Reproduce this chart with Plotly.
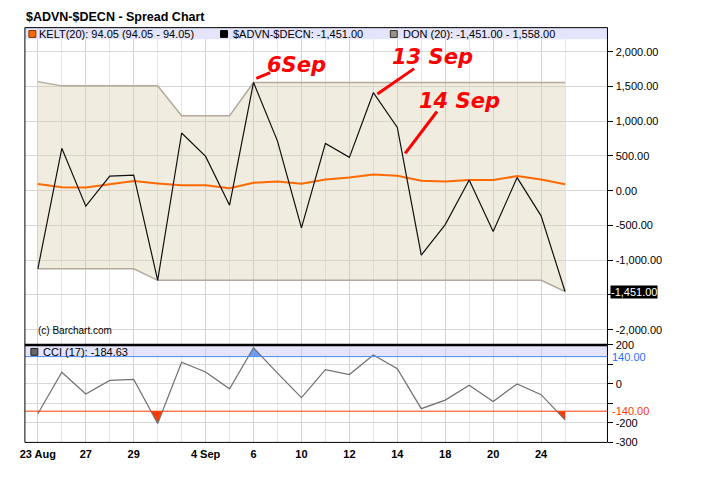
import plotly.graph_objs as go

W, H = 708, 484
OFF = 8  # the page puts the figure 8 px in from the window corner

dates = ['2012-08-23', '2012-08-24', '2012-08-27', '2012-08-28', '2012-08-29',
         '2012-08-30', '2012-08-31', '2012-09-04', '2012-09-05', '2012-09-06',
         '2012-09-07', '2012-09-10', '2012-09-11', '2012-09-12', '2012-09-13',
         '2012-09-14', '2012-09-17', '2012-09-18', '2012-09-19', '2012-09-20',
         '2012-09-21', '2012-09-24', '2012-09-25']
tick_labels = {'2012-08-23': '23 Aug', '2012-08-27': '27', '2012-08-29': '29',
               '2012-09-04': '4 Sep', '2012-09-06': '6', '2012-09-10': '10',
               '2012-09-12': '12', '2012-09-14': '14', '2012-09-18': '18',
               '2012-09-20': '20', '2012-09-24': '24'}

spread = [-1124, 611, -222, 209, 223, -1290, 831, 494, -208, 1558, 714, -535,
          681, 480, 1411, 911, -928, -488, 153, -587, 189, -362, -1451]
kelt = [97, 49, 45, 92, 139, 105, 77, 77, 35, 115, 134, 101, 162, 190, 232,
        214, 144, 134, 153, 153, 210, 162, 94.05]
don_upper = [1570, 1509, 1509, 1509, 1509, 1509, 1079, 1079, 1079, 1558, 1558,
             1558, 1558, 1558, 1558, 1558, 1558, 1558, 1558, 1558, 1558, 1558, 1558]
don_lower = [-1124, -1124, -1124, -1124, -1124, -1290, -1290, -1290, -1290,
             -1290, -1290, -1290, -1290, -1290, -1290, -1290, -1290, -1290,
             -1290, -1290, -1290, -1290, -1451]
cci = [-153, 60, -52, 18, 23, -203, 111, 61, -25, 185, 55, -70, 73, 48, 148,
       78, -127, -83, -7, -90, 0, -55, -184.63]

CCI_HIGH, CCI_LOW = 140, -140

x = list(range(len(dates)))
major_ticks = [i for i, d in enumerate(dates) if d in tick_labels]


def px(v):
    return (v - OFF) / W


def py(v):
    return 1 - (v - OFF) / H


def excursions(vals, level, above):
    # polygons where the CCI line goes past the level
    polys, cur = [], None
    for i, v in enumerate(vals):
        out = v > level if above else v < level
        if i > 0:
            p = vals[i - 1]
            pout = p > level if above else p < level
            if out != pout:
                xc = i - 1 + (level - p) / (v - p)
                if out:
                    cur = [(xc, level)]
                else:
                    cur.append((xc, level))
                    polys.append(cur)
                    cur = None
        if out:
            if cur is None:
                cur = [(i, level)]
            cur.append((i, v))
    if cur:
        cur.append((len(vals) - 1, level))
        polys.append(cur)
    return polys


data = [
    go.Scatter(x=x, y=don_lower, mode='lines', line=dict(color='#b3aa9b', width=1.5),
               xaxis='x', yaxis='y', hoverinfo='skip'),
    go.Scatter(x=x, y=don_upper, mode='lines', line=dict(color='#b3aa9b', width=1.5),
               fill='tonexty', fillcolor='rgba(214,202,165,0.36)',
               xaxis='x', yaxis='y', hoverinfo='skip'),
    go.Scatter(x=x, y=kelt, mode='lines', line=dict(color='#ff6a00', width=2),
               xaxis='x', yaxis='y'),
    go.Scatter(x=x, y=spread, mode='lines', line=dict(color='#111111', width=1.2),
               xaxis='x', yaxis='y'),
]

for poly in excursions(cci, CCI_HIGH, True):
    data.append(go.Scatter(x=[p[0] for p in poly], y=[p[1] for p in poly], mode='lines',
                           fill='toself', fillcolor='#6d9cf5', line=dict(width=0),
                           xaxis='x2', yaxis='y2', hoverinfo='skip'))
for poly in excursions(cci, CCI_LOW, False):
    data.append(go.Scatter(x=[p[0] for p in poly], y=[p[1] for p in poly], mode='lines',
                           fill='toself', fillcolor='#ff3a00', line=dict(width=0),
                           xaxis='x2', yaxis='y2', hoverinfo='skip'))

data.append(go.Scatter(x=x, y=cci, mode='lines', line=dict(color='#707070', width=1.2),
                       xaxis='x2', yaxis='y2'))

x_dom = [px(20), px(606.7)]
main_dom = [py(347.3), py(22)]
cci_dom = [py(447.3), py(347.3)]
x_range = [-0.54, 23.77]

axis_font = dict(family='Liberation Sans, Arial', size=11, color='#000000')

xaxis_common = dict(domain=x_dom, range=x_range, tickmode='array',
                    showgrid=True, gridcolor='#d2d2d2', gridwidth=1,
                    minor=dict(tickmode='array', tickvals=x, showgrid=True,
                               gridcolor='#e6e6e6', ticks=''),
                    zeroline=False, showline=False)

shapes = [
    # legend bands
    dict(type='rect', xref='paper', yref='paper', x0=x_dom[0], x1=x_dom[1],
         y0=py(34), y1=py(22), fillcolor='#e4e4fb', line=dict(width=0), layer='above'),
    dict(type='rect', xref='paper', yref='paper', x0=x_dom[0], x1=x_dom[1],
         y0=py(359.3), y1=py(347.3), fillcolor='#e4e4fb', line=dict(width=0), layer='below'),
    # cci threshold lines
    dict(type='line', xref='paper', yref='y2', x0=x_dom[0], x1=x_dom[1],
         y0=CCI_HIGH, y1=CCI_HIGH, line=dict(color='#4f8af5', width=1)),
    dict(type='line', xref='paper', yref='y2', x0=x_dom[0], x1=x_dom[1],
         y0=CCI_LOW, y1=CCI_LOW, line=dict(color='#ff3a00', width=1)),
    # panel frames
    dict(type='rect', xref='paper', yref='paper', x0=x_dom[0], x1=x_dom[1],
         y0=main_dom[0], y1=main_dom[1], line=dict(color='#000000', width=1), layer='above'),
    dict(type='rect', xref='paper', yref='paper', x0=x_dom[0], x1=x_dom[1],
         y0=cci_dom[0], y1=cci_dom[1], line=dict(color='#000000', width=1), layer='above'),
    dict(type='line', xref='paper', yref='paper', x0=x_dom[0], x1=x_dom[1],
         y0=py(347.3), y1=py(347.3), line=dict(color='#000000', width=2.5), layer='above'),
    # legend squares
    dict(type='rect', xref='paper', yref='paper', x0=px(24), x1=px(31), y0=py(32), y1=py(25),
         fillcolor='#ff6a00', line=dict(color='#803300', width=1), layer='above'),
    dict(type='rect', xref='paper', yref='paper', x0=px(217), x1=px(224), y0=py(32), y1=py(25),
         fillcolor='#000000', line=dict(color='#000000', width=1), layer='above'),
    dict(type='rect', xref='paper', yref='paper', x0=px(388), x1=px(395), y0=py(32), y1=py(25),
         fillcolor='#9a9282', line=dict(color='#333333', width=1), layer='above'),
    dict(type='rect', xref='paper', yref='paper', x0=px(26), x1=px(33), y0=py(358), y1=py(351),
         fillcolor='#666666', line=dict(color='#222222', width=1), layer='above'),
]

# hand-drawn pointer strokes
for (x0, y0, x1, y1) in [(253, 74, 267, 68), (375, 90, 412, 64), (403, 151, 435, 108)]:
    shapes.append(dict(type='line', xref='paper', yref='paper', x0=px(x0), y0=py(y0),
                       x1=px(x1), y1=py(y1), line=dict(color='#ff0000', width=3),
                       layer='above'))

legend_font = dict(family='Liberation Sans, Arial', size=11, color='#000000')
annotations = [
    dict(text='<b>$ADVN-$DECN - Spread Chart</b>', xref='paper', yref='paper',
         x=px(19), y=py(11.5), xanchor='left', yanchor='middle', showarrow=False,
         font=dict(family='Liberation Sans, Arial', size=12.5, color='#000000')),
    dict(text='KELT(20): 94.05 (94.05 - 94.05)', xref='paper', yref='paper',
         x=px(32), y=py(28.5), xanchor='left', yanchor='middle', showarrow=False, font=legend_font),
    dict(text='$ADVN-$DECN: -1,451.00', xref='paper', yref='paper',
         x=px(228), y=py(28.5), xanchor='left', yanchor='middle', showarrow=False, font=legend_font),
    dict(text='DON (20): -1,451.00 - 1,558.00', xref='paper', yref='paper',
         x=px(399), y=py(28.5), xanchor='left', yanchor='middle', showarrow=False, font=legend_font),
    dict(text='CCI (17): -184.63', xref='paper', yref='paper',
         x=px(36), y=py(354.5), xanchor='left', yanchor='middle', showarrow=False, font=legend_font),
    dict(text='(c) Barchart.com', xref='paper', yref='paper',
         x=px(31), y=py(333), xanchor='left', yanchor='middle', showarrow=False,
         font=dict(family='Liberation Sans, Arial', size=10, color='#000000')),
    dict(text='-1,451.00', xref='paper', yref='y', x=px(609), y=spread[-1],
         xanchor='left', yanchor='middle', showarrow=False, bgcolor='#000000',
         borderpad=0, font=dict(family='Liberation Sans, Arial', size=11, color='#ffffff')),
    dict(text='140.00', xref='paper', yref='y2', x=px(609), y=CCI_HIGH,
         xanchor='left', yanchor='middle', showarrow=False,
         font=dict(family='Liberation Sans, Arial', size=11, color='#1f6fff')),
    dict(text='-140.00', xref='paper', yref='y2', x=px(609), y=CCI_LOW,
         xanchor='left', yanchor='middle', showarrow=False,
         font=dict(family='Liberation Sans, Arial', size=11, color='#ff3a00')),
]

hand_font = dict(family='DejaVu Sans', size=21, color='#ff0000', weight='bold', style='italic')
for text, cx, cy in [('6Sep', 294, 60), ('13 Sep', 430, 52), ('14 Sep', 458, 97)]:
    annotations.append(dict(text=text, xref='paper', yref='paper', x=px(cx), y=py(cy),
                            xanchor='center', yanchor='middle', showarrow=False,
                            font=hand_font))

main_ticks = [2000, 1500, 1000, 500, 0, -500, -1000, -1500, -2000]
main_text = ['2,000.00', '1,500.00', '1,000.00', '500.00', '0.00', '-500.00',
             '-1,000.00', '', '-2,000.00']
cci_ticks = [200, 100, 0, -100, -200, -300]
cci_text = ['200', '', '0', '', '-200', '-300']

layout = go.Layout(
    width=W, height=H,
    margin=dict(l=0, r=0, t=0, b=0),
    paper_bgcolor='#ffffff', plot_bgcolor='#ffffff',
    showlegend=False,
    hovermode='closest',
    xaxis=dict(xaxis_common, anchor='y', showticklabels=False, tickvals=major_ticks),
    xaxis2=dict(xaxis_common, anchor='y2', tickvals=major_ticks,
                ticktext=[tick_labels[dates[i]] for i in major_ticks],
                ticks='', ticklabelstandoff=4,
                tickfont=dict(family='Liberation Sans, Arial', size=11, color='#000000',
                              weight='bold')),
    yaxis=dict(domain=main_dom, range=[-2219, 2347], side='right', anchor='x',
               tickmode='array', tickvals=main_ticks, ticktext=main_text,
               ticks='outside', ticklen=5, tickcolor='#000000', tickfont=axis_font,
               showgrid=True, gridcolor='#d8d8d8', zeroline=False),
    yaxis2=dict(domain=cci_dom, range=[-300, 200], side='right', anchor='x2',
                tickmode='array', tickvals=cci_ticks, ticktext=cci_text,
                ticks='outside', ticklen=5, tickcolor='#000000', tickfont=axis_font,
                showgrid=True, gridcolor='#d8d8d8', zeroline=False),
    shapes=shapes,
    annotations=annotations,
)

fig = go.Figure(data=data, layout=layout)
fig.write_html("out.html")
